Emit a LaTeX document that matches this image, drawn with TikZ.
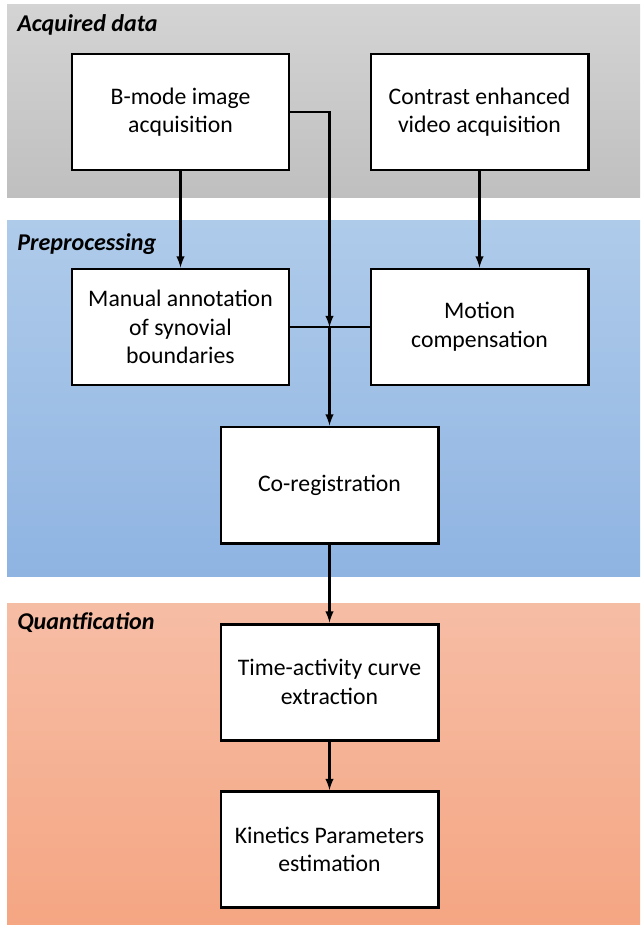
\documentclass[tikz,border=0pt]{standalone}
\usepackage{fontspec}
\setmainfont{Carlito}
\usepackage{tikz}
\tikzset{>=latex}
\tikzset{
  stage/.style={draw, line width=1.7pt, fill=white, align=center,
    minimum width=4.34cm, minimum height=2.32cm, inner sep=2pt,
    font=\fontsize{13.5}{16.3}\selectfont},
  flow/.style={line width=1.2pt},
  bandlabel/.style={anchor=base west, inner sep=0pt,
    font=\fontsize{13.7}{15}\selectfont\bfseries\itshape}
}

\begin{document}
\begin{tikzpicture}[x=0.2mm,y=-0.2mm]
            \useasboundingbox (0,0) rectangle (640,925);
            % bands
            \shade[top color=black!17, bottom color=black!25] (7,5) rectangle (640,197);
            \shade[top color={rgb,255:red,175;green,203;blue,234}, bottom color={rgb,255:red,143;green,180;blue,226}] (7,220) rectangle (640,576);
            \shade[top color={rgb,255:red,246;green,189;blue,165}, bottom color={rgb,255:red,245;green,166;blue,131}] (7,603) rectangle (640,924);
            \node[bandlabel] (acq) at (17,32) {Acquired data};
            \node[bandlabel] (pre) at (17,250) {Preprocessing};
            \node[bandlabel] (quant) at (17,629) {Quantfication};
            % steps
            \node[stage] (bmode) at (180.5,112) {B-mode image\\acquisition};
            \node[stage] (ceus) at (479.5,112) {Contrast enhanced\\video acquisition};
            \node[stage] (manual) at (180.5,327) {Manual annotation\\of synovial\\boundaries};
            \node[stage] (motion) at (479.5,327) {Motion\\compensation};
            \node[stage] (coreg) at (329.5,485) {Co-registration};
            \node[stage] (tac) at (329.5,682) {Time-activity curve\\extraction};
            \node[stage] (kin) at (329.5,849.5) {Kinetics Parameters\\estimation};
            \coordinate (join) at (coreg.north |- manual.east);
            % connectors
            \draw[flow,->] (bmode) -- (manual);
            \draw[flow,->] (ceus) -- (motion);
            \draw[flow,->] (bmode.east) -| (join);
            \draw[flow] (manual.east) -- (motion.west);
            \draw[flow,->] (join) -- (coreg);
            \draw[flow,->] (coreg) -- (tac);
            \draw[flow,->] (tac) -- (kin);
        \end{tikzpicture}
\end{document}
